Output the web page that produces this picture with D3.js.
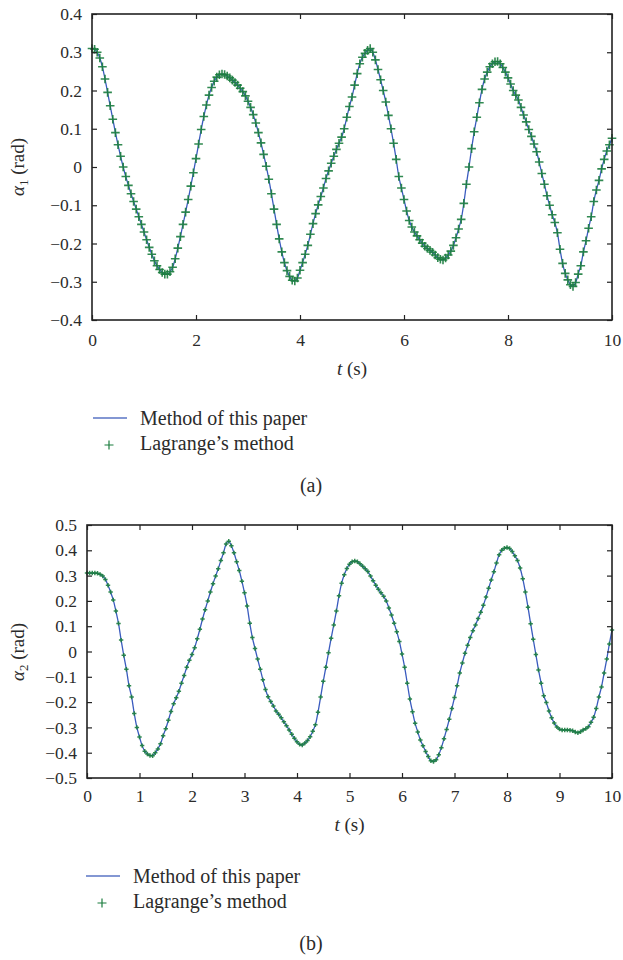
<!DOCTYPE html>
<html>
<head>
<meta charset="utf-8">
<style>
  body { margin: 0; background: #fff; }
  svg text { font-family: "Liberation Serif", "DejaVu Serif", serif; fill: #2b2b2b; }
</style>
</head>
<body>
<script src="https://d3js.org/d3.v7.min.js"></script>
<div id="chart"></div>
<script>
// time samples, 0.05 s apart, 0..10 s
const tStep = 0.05;

// panel (a): alpha_1 (rad), every 0.05 s
const alpha1 = [
  0.310, 0.308, 0.300, 0.285, 0.262, 0.230, 0.195, 0.160, 0.125, 0.090,
  0.058, 0.028, 0.000, -0.025, -0.048, -0.070, -0.090, -0.110, -0.130, -0.150,
  -0.170, -0.190, -0.210, -0.228, -0.245, -0.258, -0.268, -0.276, -0.280, -0.280,
  -0.274, -0.262, -0.240, -0.212, -0.182, -0.150, -0.118, -0.085, -0.050, -0.015,
  0.022, 0.060, 0.098, 0.132, 0.162, 0.188, 0.208, 0.224, 0.235, 0.241,
  0.243, 0.242, 0.238, 0.233, 0.227, 0.221, 0.214, 0.206, 0.197, 0.186,
  0.172, 0.156, 0.137, 0.115, 0.090, 0.063, 0.033, 0.002, -0.032, -0.070,
  -0.110, -0.150, -0.188, -0.222, -0.250, -0.271, -0.286, -0.296, -0.298, -0.290,
  -0.270, -0.250, -0.228, -0.205, -0.176, -0.148, -0.122, -0.099, -0.077, -0.055,
  -0.030, -0.010, 0.010, 0.028, 0.046, 0.062, 0.078, 0.100, 0.130, 0.158,
  0.183, 0.214, 0.244, 0.270, 0.287, 0.297, 0.305, 0.310, 0.300, 0.280,
  0.255, 0.228, 0.200, 0.170, 0.135, 0.100, 0.062, 0.020, -0.025, -0.055,
  -0.085, -0.115, -0.140, -0.157, -0.170, -0.180, -0.190, -0.199, -0.207, -0.213,
  -0.218, -0.223, -0.230, -0.237, -0.241, -0.243, -0.238, -0.230, -0.220, -0.205,
  -0.185, -0.162, -0.137, -0.095, -0.045, 0.000, 0.048, 0.092, 0.130, 0.168,
  0.203, 0.230, 0.248, 0.262, 0.270, 0.275, 0.276, 0.270, 0.260, 0.248,
  0.233, 0.217, 0.200, 0.188, 0.175, 0.156, 0.136, 0.118, 0.098, 0.080,
  0.060, 0.040, 0.013, -0.017, -0.045, -0.075, -0.100, -0.125, -0.145, -0.172,
  -0.215, -0.252, -0.278, -0.295, -0.308, -0.312, -0.302, -0.280, -0.258, -0.222,
  -0.193, -0.160, -0.130, -0.090, -0.060, -0.035, -0.005, 0.020, 0.042, 0.058,
  0.075
];

// panel (b): alpha_2 (rad), every 0.05 s
const alpha2 = [
  0.310, 0.310, 0.310, 0.310, 0.309, 0.305, 0.298, 0.285, 0.262, 0.235,
  0.204, 0.160, 0.111, 0.045, -0.015, -0.070, -0.135, -0.180, -0.245, -0.300,
  -0.338, -0.372, -0.394, -0.405, -0.411, -0.412, -0.400, -0.385, -0.365, -0.333,
  -0.305, -0.272, -0.237, -0.207, -0.183, -0.157, -0.125, -0.095, -0.062, -0.035,
  -0.012, 0.015, 0.050, 0.088, 0.128, 0.165, 0.200, 0.235, 0.268, 0.298,
  0.327, 0.360, 0.390, 0.425, 0.436, 0.418, 0.390, 0.355, 0.320, 0.278,
  0.232, 0.180, 0.112, 0.055, 0.012, -0.030, -0.070, -0.112, -0.150, -0.179,
  -0.198, -0.215, -0.235, -0.248, -0.262, -0.278, -0.293, -0.310, -0.327, -0.343,
  -0.357, -0.367, -0.370, -0.362, -0.352, -0.337, -0.315, -0.290, -0.240, -0.180,
  -0.118, -0.062, -0.005, 0.052, 0.105, 0.160, 0.220, 0.270, 0.303, 0.328,
  0.345, 0.355, 0.358, 0.355, 0.347, 0.337, 0.327, 0.316, 0.298, 0.280,
  0.262, 0.246, 0.232, 0.218, 0.200, 0.172, 0.144, 0.112, 0.078, 0.040,
  -0.010, -0.062, -0.125, -0.188, -0.238, -0.284, -0.318, -0.350, -0.373, -0.395,
  -0.415, -0.432, -0.435, -0.428, -0.408, -0.380, -0.345, -0.308, -0.268, -0.225,
  -0.182, -0.135, -0.085, -0.045, -0.007, 0.025, 0.055, 0.082, 0.105, 0.130,
  0.155, 0.183, 0.215, 0.250, 0.283, 0.315, 0.350, 0.382, 0.400, 0.408,
  0.411, 0.407, 0.395, 0.378, 0.360, 0.330, 0.288, 0.235, 0.175, 0.110,
  0.048, -0.012, -0.073, -0.125, -0.175, -0.202, -0.235, -0.262, -0.283, -0.298,
  -0.307, -0.310, -0.310, -0.310, -0.311, -0.313, -0.318, -0.321, -0.317, -0.310,
  -0.305, -0.297, -0.280, -0.260, -0.225, -0.180, -0.140, -0.085, -0.030, 0.030,
  0.085
];

const xTicksA = [0, 2, 4, 6, 8, 10];
const yTicksA = [-0.4, -0.3, -0.2, -0.1, 0, 0.1, 0.2, 0.3, 0.4];
const xTicksB = [0, 1, 2, 3, 4, 5, 6, 7, 8, 9, 10];
const yTicksB = [-0.5, -0.4, -0.3, -0.2, -0.1, 0, 0.1, 0.2, 0.3, 0.4, 0.5];
const legendLabels = ["Method of this paper", "Lagrange\u2019s method"];
const panelLabels = ["(a)", "(b)"];

const lineColor = "#3a5bbf";
const markColor = "#1b7d3e";

const svg = d3.select("#chart").append("svg")
  .attr("width", 623).attr("height", 960);

function fmtY(d) {
  if (d === 0) return "0";
  return d3.format(".1f")(d);
}

function drawPanel(p) {
  const x = d3.scaleLinear().domain([0, 10]).range([p.left, p.right]);
  const y = d3.scaleLinear().domain(p.yDomain).range([p.bottom, p.top]);
  const pts = p.values.map((v, i) => ({t: i * tStep, v: v}));
  const g = svg.append("g");

  // line (method of this paper)
  g.append("path")
    .datum(pts)
    .attr("fill", "none")
    .attr("stroke", lineColor)
    .attr("stroke-width", 1.3)
    .attr("d", d3.line().x(d => x(d.t)).y(d => y(d.v)).curve(d3.curveCatmullRom));

  // + markers (Lagrange's method)
  const s = p.markSize;
  g.selectAll("path.mk").data(pts).enter().append("path")
    .attr("class", "mk")
    .attr("d", d => {
      const cx = x(d.t), cy = y(d.v);
      return "M" + (cx - s) + "," + cy + "H" + (cx + s) + "M" + cx + "," + (cy - s) + "V" + (cy + s);
    })
    .attr("stroke", markColor)
    .attr("stroke-width", p.markWidth)
    .attr("stroke-opacity", 0.9)
    .attr("fill", "none");

  // axes with inward ticks on all sides
  const styleAxis = a => {
    a.select(".domain").remove();
    a.selectAll("line").attr("stroke", "#222").attr("stroke-width", 1.2);
    a.selectAll("text").attr("fill", "#2b2b2b")
      .style("font-family", "Liberation Serif, serif").style("font-size", "17.5px");
  };
  g.append("g").attr("transform", "translate(0," + p.bottom + ")")
    .call(d3.axisBottom(x).tickValues(p.xTicks).tickSize(-5).tickPadding(p.xPad).tickFormat(d3.format("d")))
    .call(styleAxis);
  g.append("g").attr("transform", "translate(0," + p.top + ")")
    .call(d3.axisTop(x).tickValues(p.xTicks).tickSize(-5).tickFormat(""))
    .call(styleAxis);
  g.append("g").attr("transform", "translate(" + p.left + ",0)")
    .call(d3.axisLeft(y).tickValues(p.yTicks).tickSize(-5).tickPadding(10).tickFormat(fmtY))
    .call(styleAxis);
  g.append("g").attr("transform", "translate(" + p.right + ",0)")
    .call(d3.axisRight(y).tickValues(p.yTicks).tickSize(-5).tickFormat(""))
    .call(styleAxis);

  // frame
  g.append("rect")
    .attr("x", p.left).attr("y", p.top)
    .attr("width", p.right - p.left).attr("height", p.bottom - p.top)
    .attr("fill", "none").attr("stroke", "#222").attr("stroke-width", 1.6);

  // y label
  const yl = g.append("text")
    .attr("transform", "translate(24," + p.yLabelY + ") rotate(-90)")
    .attr("text-anchor", "middle")
    .style("font-size", "19px");
  yl.append("tspan").style("font-style", "italic").text("\u03b1");
  yl.append("tspan").attr("dy", 4).style("font-size", "13px").text(p.sub);
  yl.append("tspan").attr("dy", -4).text(" (rad)");

  // x label
  const xl = g.append("text")
    .attr("x", (p.left + p.right) / 2).attr("y", p.xLabelY)
    .attr("text-anchor", "middle")
    .style("font-size", "19px");
  xl.append("tspan").style("font-style", "italic").text("t");
  xl.append("tspan").text(" (s)");

  // legend
  g.append("line")
    .attr("x1", p.legX).attr("x2", p.legX + 34)
    .attr("y1", p.legY).attr("y2", p.legY)
    .attr("stroke", "#5a74c4").attr("stroke-width", 1.4);
  g.append("text").attr("x", p.legX + 47).attr("y", p.legY + 7)
    .style("font-size", "20px").text(legendLabels[0]);
  const px = p.legX + 16, py = p.legY + 27;
  g.append("path")
    .attr("d", "M" + (px - 4.5) + "," + py + "H" + (px + 4.5) + "M" + px + "," + (py - 4.5) + "V" + (py + 4.5))
    .attr("stroke", markColor).attr("stroke-width", 1.2);
  g.append("text").attr("x", p.legX + 47).attr("y", p.legY + 32)
    .style("font-size", "20px").text(legendLabels[1]);

  g.append("text").attr("x", 311).attr("y", p.capY)
    .attr("text-anchor", "middle")
    .style("font-size", "20px").text(p.caption);
}

drawPanel({
  values: alpha1, yDomain: [-0.4, 0.4], xTicks: xTicksA, yTicks: yTicksA,
  left: 92, right: 612, top: 14, bottom: 320, xPad: 14,
  markSize: 4.3, markWidth: 1.6, sub: "1", yLabelY: 167, xLabelY: 375,
  legX: 93, legY: 418, capY: 492, caption: panelLabels[0]
});
drawPanel({
  values: alpha2, yDomain: [-0.5, 0.5], xTicks: xTicksB, yTicks: yTicksB,
  left: 87, right: 612, top: 525, bottom: 778, xPad: 12,
  markSize: 2.2, markWidth: 1.5, sub: "2", yLabelY: 652, xLabelY: 831,
  legX: 86, legY: 876, capY: 950, caption: panelLabels[1]
});
</script>
</body>
</html>
